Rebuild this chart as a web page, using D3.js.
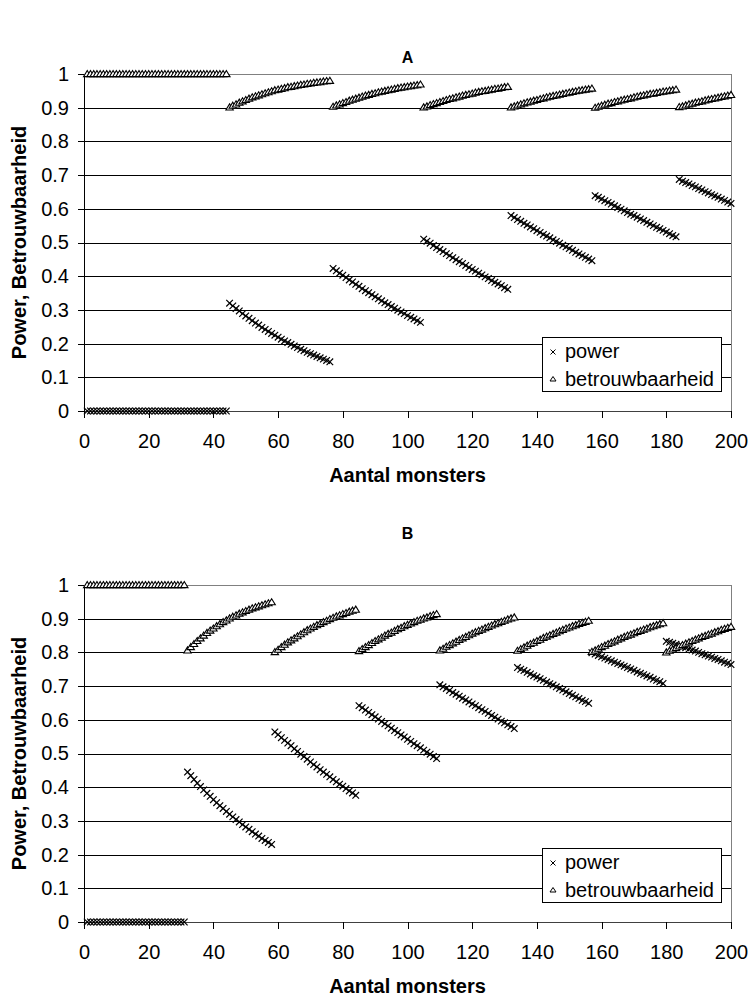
<!DOCTYPE html>
<meta charset="utf-8">

<head>
  <style>
    body {
      margin: 0;
      background: #fff;
    }

    svg {
      display: block;
      font-family: "Liberation Sans", Arial, sans-serif;
    }

    .tick text {
      font-size: 20px;
      fill: #000;
    }

    .tick line {
      stroke: #000;
      shape-rendering: crispEdges;
    }

    .grid {
      stroke: #000;
      shape-rendering: crispEdges;
    }

    .frame {
      stroke: #808080;
      shape-rendering: crispEdges;
    }

    .axis-title {
      font-size: 20px;
      font-weight: bold;
    }

    .panel-title {
      font-size: 16px;
      font-weight: bold;
    }

    .legend text {
      font-size: 20px;
    }
  </style>

  <script src="https://d3js.org/d3.v7.min.js"></script>
</head>

<body>
  <svg width="749" height="996"></svg>

  <script>
    // aantal monsters: 1 .. 200
    var monsters = d3.range(1, 201);

    // panel A
    var powerA = [
      0, 0, 0, 0, 0, 0, 0, 0, 0, 0,
      0, 0, 0, 0, 0, 0, 0, 0, 0, 0,
      0, 0, 0, 0, 0, 0, 0, 0, 0, 0,
      0, 0, 0, 0, 0, 0, 0, 0, 0, 0,
      0, 0, 0, 0,
      0.320, 0.312, 0.304, 0.297, 0.289, 0.282, 0.275, 0.268, 0.261, 0.255, 0.248, 0.242, 0.236, 0.230, 0.225, 0.219,
      0.213, 0.208, 0.203, 0.198, 0.193, 0.188, 0.183, 0.179, 0.174, 0.170, 0.166, 0.162, 0.158, 0.154, 0.150, 0.146,
      0.423, 0.416, 0.409, 0.403, 0.396, 0.389, 0.383, 0.376, 0.370, 0.363, 0.357, 0.351, 0.345, 0.339,
      0.333, 0.327, 0.321, 0.316, 0.310, 0.305, 0.299, 0.294, 0.289, 0.283, 0.278, 0.273, 0.268, 0.263,
      0.510, 0.504, 0.498, 0.491, 0.485, 0.479, 0.473, 0.467, 0.461, 0.455, 0.449, 0.443, 0.438, 0.432,
      0.426, 0.420, 0.415, 0.409, 0.404, 0.398, 0.393, 0.387, 0.382, 0.377, 0.372, 0.366, 0.361,
      0.580, 0.574, 0.568, 0.563, 0.557, 0.552, 0.546, 0.541, 0.535, 0.530, 0.524, 0.519, 0.514,
      0.508, 0.503, 0.498, 0.492, 0.487, 0.482, 0.477, 0.471, 0.466, 0.461, 0.456, 0.451, 0.446,
      0.639, 0.634, 0.629, 0.624, 0.619, 0.614, 0.609, 0.604, 0.599, 0.594, 0.589, 0.584, 0.580,
      0.575, 0.570, 0.565, 0.560, 0.555, 0.550, 0.545, 0.541, 0.536, 0.531, 0.526, 0.521, 0.517,
      0.687, 0.682, 0.678, 0.674, 0.669, 0.665, 0.660, 0.656, 0.651, 0.647, 0.642, 0.638, 0.634,
      0.629, 0.625, 0.620, 0.616
    ];

    var reliabilityA = [
      1, 1, 1, 1, 1, 1, 1, 1, 1, 1,
      1, 1, 1, 1, 1, 1, 1, 1, 1, 1,
      1, 1, 1, 1, 1, 1, 1, 1, 1, 1,
      1, 1, 1, 1, 1, 1, 1, 1, 1, 1,
      1, 1, 1, 1,
      0.901, 0.906, 0.910, 0.915, 0.919, 0.923, 0.927, 0.931, 0.934, 0.937, 0.940, 0.943, 0.946, 0.949, 0.952, 0.954,
      0.956, 0.958, 0.961, 0.962, 0.964, 0.966, 0.968, 0.969, 0.971, 0.972, 0.974, 0.975, 0.976, 0.978, 0.979, 0.980,
      0.903, 0.907, 0.910, 0.914, 0.917, 0.921, 0.924, 0.927, 0.930, 0.933, 0.936, 0.938, 0.941, 0.943,
      0.946, 0.948, 0.950, 0.952, 0.954, 0.956, 0.958, 0.960, 0.961, 0.963, 0.964, 0.966, 0.967, 0.969,
      0.901, 0.904, 0.908, 0.911, 0.914, 0.917, 0.920, 0.923, 0.926, 0.928, 0.931, 0.933, 0.936, 0.938,
      0.940, 0.942, 0.945, 0.947, 0.949, 0.950, 0.952, 0.954, 0.956, 0.957, 0.959, 0.961, 0.962,
      0.901, 0.904, 0.907, 0.910, 0.913, 0.916, 0.918, 0.921, 0.923, 0.926, 0.928, 0.931, 0.933,
      0.935, 0.937, 0.939, 0.941, 0.943, 0.945, 0.947, 0.949, 0.951, 0.952, 0.954, 0.955, 0.957,
      0.900, 0.903, 0.906, 0.909, 0.912, 0.914, 0.917, 0.919, 0.922, 0.924, 0.926, 0.928, 0.931,
      0.933, 0.935, 0.937, 0.939, 0.941, 0.942, 0.944, 0.946, 0.948, 0.949, 0.951, 0.952, 0.954,
      0.902, 0.904, 0.907, 0.910, 0.912, 0.915, 0.917, 0.919, 0.922, 0.924, 0.926, 0.928, 0.930,
      0.932, 0.934, 0.936, 0.938
    ];

    // panel B
    var powerB = [
      0, 0, 0, 0, 0, 0, 0, 0, 0, 0,
      0, 0, 0, 0, 0, 0, 0, 0, 0, 0,
      0, 0, 0, 0, 0, 0, 0, 0, 0, 0,
      0,
      0.445, 0.434, 0.423, 0.412, 0.402, 0.392, 0.382, 0.373, 0.363, 0.354, 0.345, 0.337, 0.328, 0.320,
      0.312, 0.304, 0.297, 0.289, 0.282, 0.275, 0.268, 0.261, 0.255, 0.248, 0.242, 0.236, 0.230,
      0.564, 0.556, 0.547, 0.539, 0.531, 0.523, 0.514, 0.506, 0.498, 0.491, 0.483, 0.475, 0.467,
      0.460, 0.452, 0.445, 0.438, 0.431, 0.423, 0.416, 0.409, 0.403, 0.396, 0.389, 0.383, 0.376,
      0.642, 0.636, 0.629, 0.622, 0.615, 0.609, 0.602, 0.595, 0.588, 0.582, 0.575, 0.568, 0.562,
      0.555, 0.549, 0.542, 0.536, 0.529, 0.523, 0.517, 0.510, 0.504, 0.498, 0.491, 0.485,
      0.704, 0.698, 0.693, 0.687, 0.681, 0.676, 0.670, 0.664, 0.659, 0.653, 0.647, 0.642,
      0.636, 0.630, 0.625, 0.619, 0.613, 0.608, 0.602, 0.596, 0.591, 0.585, 0.580, 0.574,
      0.755, 0.750, 0.746, 0.741, 0.736, 0.731, 0.727, 0.722, 0.717, 0.712, 0.707, 0.703,
      0.698, 0.693, 0.688, 0.683, 0.678, 0.673, 0.668, 0.663, 0.658, 0.654, 0.649,
      0.799, 0.795, 0.791, 0.787, 0.783, 0.779, 0.775, 0.771, 0.767, 0.763, 0.759, 0.755,
      0.751, 0.747, 0.742, 0.738, 0.734, 0.730, 0.726, 0.721, 0.717, 0.713, 0.708,
      0.833, 0.830, 0.827, 0.824, 0.820, 0.817, 0.814, 0.810, 0.807, 0.804, 0.800,
      0.796, 0.793, 0.789, 0.786, 0.782, 0.779, 0.775, 0.771, 0.768, 0.764
    ];

    var reliabilityB = [
      1, 1, 1, 1, 1, 1, 1, 1, 1, 1,
      1, 1, 1, 1, 1, 1, 1, 1, 1, 1,
      1, 1, 1, 1, 1, 1, 1, 1, 1, 1,
      1,
      0.806, 0.816, 0.825, 0.834, 0.842, 0.850, 0.858, 0.865, 0.871, 0.878, 0.884, 0.890, 0.895, 0.901,
      0.906, 0.910, 0.915, 0.919, 0.923, 0.927, 0.931, 0.934, 0.937, 0.940, 0.943, 0.946, 0.949,
      0.801, 0.808, 0.816, 0.823, 0.830, 0.836, 0.842, 0.848, 0.854, 0.860, 0.866, 0.871, 0.876,
      0.881, 0.885, 0.890, 0.894, 0.899, 0.903, 0.907, 0.910, 0.914, 0.917, 0.921, 0.924, 0.927,
      0.804, 0.810, 0.816, 0.822, 0.828, 0.834, 0.839, 0.844, 0.850, 0.855, 0.859, 0.864, 0.869,
      0.873, 0.878, 0.882, 0.886, 0.890, 0.894, 0.897, 0.901, 0.904, 0.908, 0.911, 0.914,
      0.806, 0.811, 0.817, 0.822, 0.827, 0.832, 0.837, 0.842, 0.846, 0.851, 0.856, 0.860,
      0.864, 0.868, 0.872, 0.876, 0.880, 0.884, 0.887, 0.891, 0.894, 0.898, 0.901, 0.904,
      0.805, 0.810, 0.815, 0.820, 0.825, 0.829, 0.834, 0.838, 0.843, 0.847, 0.851, 0.855,
      0.859, 0.863, 0.867, 0.871, 0.874, 0.878, 0.881, 0.885, 0.888, 0.891, 0.894,
      0.802, 0.806, 0.811, 0.816, 0.820, 0.825, 0.829, 0.833, 0.838, 0.842, 0.846, 0.850,
      0.853, 0.857, 0.861, 0.864, 0.868, 0.871, 0.875, 0.878, 0.881, 0.884, 0.887,
      0.800, 0.805, 0.809, 0.813, 0.818, 0.822, 0.826, 0.830, 0.834, 0.838, 0.842,
      0.846, 0.849, 0.853, 0.856, 0.860, 0.863, 0.867, 0.870, 0.873, 0.876
    ];

    var yTicks = [0, 0.1, 0.2, 0.3, 0.4, 0.5, 0.6, 0.7, 0.8, 0.9, 1];
    var xTicks = [0, 20, 40, 60, 80, 100, 120, 140, 160, 180, 200];
    var seriesNames = ["power", "betrouwbaarheid"];

    var svg = d3.select("svg");

    var left = 84,
      right = 731,
      plotH = 337;

    var crossPath = "M-3.3,-3.3L3.3,3.3M-3.3,3.3L3.3,-3.3",
      triPath = "M0,-3.5L3.7,2.6L-3.7,2.6Z",
      crossSmall = "M-2.5,-2.5L2.5,2.5M-2.5,2.5L2.5,-2.5",
      triSmall = "M0,-2.5L3,2L-3,2Z";

    drawPanel("A", powerA, reliabilityA, 74, 62.5);
    drawPanel("B", powerB, reliabilityB, 585, 539);

    function drawPanel(title, power, reliability, top, titleY) {
      var bottom = top + plotH;
      var g = svg.append("g");

      var x = d3.scaleLinear().domain([0, 200]).range([left, right]);
      var y = d3.scaleLinear().domain([0, 1]).range([bottom, top]);

      // gridlines
      g.selectAll(".grid")
        .data(yTicks.filter(function(d) { return d > 0 && d < 1; }))
        .enter()
        .append("line")
        .attr("class", "grid")
        .attr("x1", left)
        .attr("x2", right + 0.5)
        .attr("y1", function(d) { return Math.round(y(d)) + 0.5; })
        .attr("y2", function(d) { return Math.round(y(d)) + 0.5; });

      // plot area border (top + right)
      g.append("path")
        .attr("class", "frame")
        .attr("fill", "none")
        .attr("d", "M" + left + "," + (top + 0.5) + "H" + (right + 0.5) + "V" + (bottom + 0.5));

      var xAxis = g.append("g")
        .attr("transform", "translate(0," + bottom + ")")
        .call(d3.axisBottom(x)
          .tickValues(xTicks)
          .tickSize(7)
          .tickSizeOuter(0)
          .tickPadding(16));
      xAxis.select(".domain").attr("stroke", "#404040").style("shape-rendering", "crispEdges");

      var yAxis = g.append("g")
        .attr("transform", "translate(" + left + ",0)")
        .call(d3.axisLeft(y)
          .tickValues(yTicks)
          .tickFormat(function(d) { return String(d); })
          .tickSize(6)
          .tickSizeOuter(0)
          .tickPadding(9));
      yAxis.select(".domain").attr("stroke", "#000").style("shape-rendering", "crispEdges");

      g.selectAll(".tick text").attr("font-family", null).attr("font-size", null);

      // power (x markers), drawn first
      g.append("g")
        .selectAll("path")
        .data(monsters)
        .enter()
        .append("path")
        .attr("transform", function(d, i) { return "translate(" + x(d) + "," + y(power[i]) + ")"; })
        .attr("d", crossPath)
        .attr("fill", "none")
        .attr("stroke", "#000")
        .attr("stroke-width", 1.2);

      // betrouwbaarheid (triangles)
      g.append("g")
        .selectAll("path")
        .data(monsters)
        .enter()
        .append("path")
        .attr("transform", function(d, i) { return "translate(" + x(d) + "," + y(reliability[i]) + ")"; })
        .attr("d", triPath)
        .attr("fill", "#fff")
        .attr("stroke", "#000")
        .attr("stroke-width", 1.1);

      // titles
      g.append("text")
        .attr("class", "panel-title")
        .attr("x", (left + right) / 2)
        .attr("y", titleY)
        .attr("text-anchor", "middle")
        .text(title);

      g.append("text")
        .attr("class", "axis-title")
        .attr("x", (left + right) / 2)
        .attr("y", bottom + 71)
        .attr("text-anchor", "middle")
        .text("Aantal monsters");

      g.append("text")
        .attr("class", "axis-title")
        .attr("transform", "translate(26," + (top + plotH / 2) + ") rotate(-90)")
        .attr("text-anchor", "middle")
        .text("Power, Betrouwbaarheid");

      // legend
      var legend = g.append("g").attr("class", "legend");
      legend.append("rect")
        .attr("x", 542.5)
        .attr("y", top + 263.5)
        .attr("width", 179)
        .attr("height", 54)
        .attr("fill", "#fff")
        .attr("stroke", "#000");

      var rows = legend.selectAll(".row")
        .data(seriesNames)
        .enter()
        .append("g")
        .attr("class", "row")
        .attr("transform", function(d, i) { return "translate(553," + (top + 278 + i * 27) + ")"; });

      rows.append("path")
        .attr("d", function(d, i) { return i === 0 ? crossSmall : triSmall; })
        .attr("fill", "#fff")
        .attr("stroke", "#000");

      rows.append("text")
        .attr("x", 12)
        .attr("y", function(d, i) { return i === 0 ? 5.5 : 6.5; })
        .text(function(d) { return d; });
    }
  </script>
</body>
